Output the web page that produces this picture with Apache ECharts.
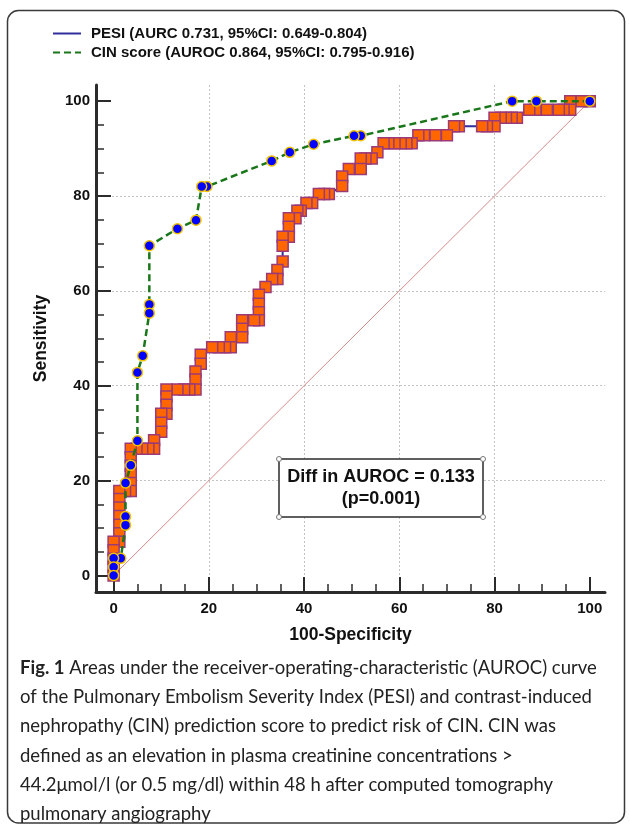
<!DOCTYPE html>
<html>
<head>
<meta charset="utf-8">
<script src="https://cdn.jsdelivr.net/npm/echarts@6/dist/echarts.min.js"></script>
<style>
html,body{margin:0;padding:0;background:#fff;}
#chart{width:630px;height:824px;}
</style>
</head>
<body>
<div id="chart"></div>
<script>
// ---- data ----
const pesiName = 'PESI (AURC 0.731, 95%CI: 0.649-0.804)';
const cinName = 'CIN score (AUROC 0.864, 95%CI: 0.795-0.916)';

const pesiX = [0,0,0,0,0, 1.2,1.2,1.2,1.2,1.2,1.2,1.2, 2.4,3.6,3.6,3.6,3.6,3.6,3.6,
  4.8,6.0,7.3,8.5,8.5, 10,10,10, 11.1,11.1,11.1,11.1, 13.4,14.8,15.9,17.2,17.2,17.2,
  18.3,18.3, 20.7,22.1,23.4,24.6,24.6, 27.0,27.0,27.0, 29.5,30.5,30.5,30.5,30.5,
  31.9,33.3,34.4,34.4,35.5,35.5,35.5, 36.8,36.8,36.8, 38.2,38.6,39.3, 40.5,41.7,
  43.1,44.2,45.2, 48.0,48.0, 49.4,51.9,51.9,52.9,54.2, 55.4, 56.7,57.7,59.0,60.3,61.5,62.6,
  64.0,65.2,67.6,70.0, 71.5,72.5, 77.4,78.4,80.0, 80.0,81.3,82.4,83.6,84.7,
  87.3,88.6,91.0,93.5,94.5,95.9, 95.9,98.3,100];
const pesiY = [0,1.8,3.5,5.3,7.1, 7.1,8.9,10.7,12.5,14.3,16.1,17.8, 17.8,17.8,19.5,21.3,23.1,24.9,26.7,
  26.7,26.7,26.7,26.7,28.5, 30.3,32.2,34.1, 34.1,36.0,37.7,39.2, 39.2,39.2,39.2,39.2,41.3,43.0,
  44.6,46.5, 48.1,48.1,48.1,48.1,50.2, 50.2,52.0,53.8, 53.8,53.8,55.5,57.3,59.2,
  60.8,62.5,62.5,64.4,66.2,69.5,71.4, 71.4,73.5,75.3, 75.3,76.9,76.9, 78.5,78.5,
  80.4,80.4,80.4, 82.1,84.1, 85.7,85.7,87.9,87.9,87.9, 89.2, 91.1,91.1,91.1,91.1,91.1,91.1,
  92.8,92.8,92.8,92.8, 94.7,94.7, 94.7,94.7,94.7, 96.5,96.5,96.5,96.5,96.5,
  98.2,98.2,98.2,98.2,98.2,98.2, 100,100,100];

const cinX = [0,0,0,1.5,2.5,2.5,2.5,3.6,5.0,5.0,6.1,7.5,7.5,7.5,13.4,17.3,18.5,19.6,33.2,37.0,42.0,50.5,51.9,83.7,88.8,100];
const cinY = [0,1.75,3.6,3.6,10.6,12.4,19.5,23.2,28.4,42.8,46.3,55.3,57.1,69.5,73.1,74.9,82.0,82.0,87.4,89.2,90.9,92.7,92.7,100,100,100];

const refX = [0,100];
const refY = [0,100];

const majorTicks = [0,20,40,60,80,100];
const allTicks = [0,5,10,15,20,25,30,35,40,45,50,55,60,65,70,75,80,85,90,95,100];

const xTitle = '100-Specificity';
const yTitle = 'Sensitivity';
const boxLines = ['Diff in AUROC = 0.133', '(p=0.001)'];
const captionLines = [
  '{b|Fig. 1} Areas under the receiver-operating-characteristic (AUROC) curve',
  'of the Pulmonary Embolism Severity Index (PESI) and contrast-induced',
  'nephropathy (CIN) prediction score to predict risk of CIN. CIN was',
  'defined as an elevation in plasma creatinine concentrations >',
  '44.2μmol/l (or 0.5 mg/dl) within 48 h after computed tomography',
  'pulmonary angiography'
];

// ---- build ----
const zip = (xs, ys) => xs.map((x, i) => [x, ys[i]]);
// drawn from the top-right end so that lower/left markers lie on top
const pesiData = zip(pesiX, pesiY).reverse();
const cinData = zip(cinX, cinY).reverse();
const refData = zip(refX, refY);

const FONT = 'Liberation Sans, Arial, sans-serif';
const AX = '#2b2b2b';
const XMIN = -3.7, XMAX = 103.2, YMIN = -3.5, YMAX = 103.4;

// axis 0: line, labels, title, short ticks every 5
function mainAxis(min, max, isX) {
  return {
    type: 'value', min: min, max: max,
    position: isX ? 'bottom' : 'left',
    name: isX ? xTitle : yTitle,
    nameLocation: 'middle',
    nameGap: isX ? 34 : 46,
    nameTextStyle: {fontFamily: FONT, fontWeight: 'bold', fontSize: 17.5, color: '#111'},
    axisLine: {show: true, onZero: false, lineStyle: {color: AX, width: 3}},
    axisTick: {show: true, inside: true, length: 8, customValues: allTicks, lineStyle: {color: AX, width: 1.5}},
    axisLabel: {show: true, customValues: majorTicks, margin: isX ? 9 : 6,
      fontFamily: FONT, fontWeight: 'bold', fontSize: 15, color: '#111'},
    splitLine: {show: false},
    minorTick: {show: false}
  };
}
// axis 1: long major ticks and the dotted grid
function majorTickAxis(min, max, isX) {
  return {
    type: 'value', min: min, max: max,
    position: isX ? 'bottom' : 'left',
    axisLine: {show: true, onZero: false, lineStyle: {color: 'rgba(0,0,0,0)', width: 1}},
    axisTick: {show: true, inside: true, length: 15, customValues: majorTicks, lineStyle: {color: AX, width: 2}},
    axisLabel: {show: false, customValues: majorTicks},
    splitLine: {show: true, showMinLine: false, showMaxLine: false,
      lineStyle: {color: '#c4c4c4', width: 1, type: [2, 2]}}
  };
}

const chart = echarts.init(document.getElementById('chart'), null, {renderer: 'canvas'});

const graphics = [
  {type: 'rect', z: 0, shape: {x: 7.5, y: 10.5, width: 617, height: 812.5, r: 11},
   style: {fill: 'none', stroke: '#3a3a3a', lineWidth: 1.5}},
  {type: 'rect', z: 50, shape: {x: 279, y: 459, width: 204, height: 58},
   style: {fill: '#fff', stroke: '#2b2b2b', lineWidth: 1.5}},
  {type: 'text', z: 51, x: 381, y: 477,
   style: {text: boxLines[0], fill: '#111', font: 'bold 18px ' + FONT, textAlign: 'center', textVerticalAlign: 'middle'}},
  {type: 'text', z: 51, x: 381, y: 499,
   style: {text: boxLines[1], fill: '#111', font: 'bold 18px ' + FONT, textAlign: 'center', textVerticalAlign: 'middle'}}
];
[[279,459],[483,459],[279,517],[483,517]].forEach(p => {
  graphics.push({type: 'circle', z: 52, shape: {cx: p[0], cy: p[1], r: 2.5},
    style: {fill: '#fff', stroke: '#777', lineWidth: 1}});
});
captionLines.forEach((t, i) => {
  graphics.push({type: 'text', z: 10, x: 20, y: 668 + i * 29.2,
    style: {text: t, fill: '#222', fontFamily: 'Lato', fontSize: 18.5,
      textAlign: 'left', textVerticalAlign: 'middle',
      rich: {b: {fontFamily: 'Lato', fontWeight: 'bold', fontSize: 18.5, fill: '#222'}}}});
});

chart.setOption({
  animation: false,
  backgroundColor: '#fff',
  grid: {left: 96, right: 25, top: 85, bottom: 232, containLabel: false},
  legend: {
    show: true, orient: 'vertical', left: 47, top: 21,
    itemWidth: 28, itemHeight: 14, itemGap: 4,
    itemStyle: {opacity: 0},
    textStyle: {fontFamily: FONT, fontWeight: 'bold', fontSize: 15, color: '#111', padding: [0, 0, 0, 5]},
    data: [pesiName, cinName]
  },
  xAxis: [mainAxis(XMIN, XMAX, true), majorTickAxis(XMIN, XMAX, true)],
  yAxis: [mainAxis(YMIN, YMAX, false), majorTickAxis(YMIN, YMAX, false)],
  series: [
    {type: 'line', name: 'ref', data: refData, symbol: 'none', silent: true, z: 1,
     lineStyle: {color: '#d98a8a', width: 1}},
    {type: 'line', name: pesiName, data: pesiData, z: 2,
     symbol: 'rect', symbolSize: 11, showSymbol: true, showAllSymbol: true,
     lineStyle: {color: '#2e2e9c', width: 2},
     itemStyle: {color: '#ff6600', borderColor: '#9b3a78', borderWidth: 1.5}},
    {type: 'line', name: cinName, data: cinData, z: 3,
     symbol: 'circle', symbolSize: 10, showSymbol: true, showAllSymbol: true,
     lineStyle: {color: '#1a761a', width: 2.5, type: [7, 4]},
     itemStyle: {color: '#0000ff', borderColor: '#f2c200', borderWidth: 1.5}}
  ],
  graphic: graphics
});
</script>
</body>
</html>
